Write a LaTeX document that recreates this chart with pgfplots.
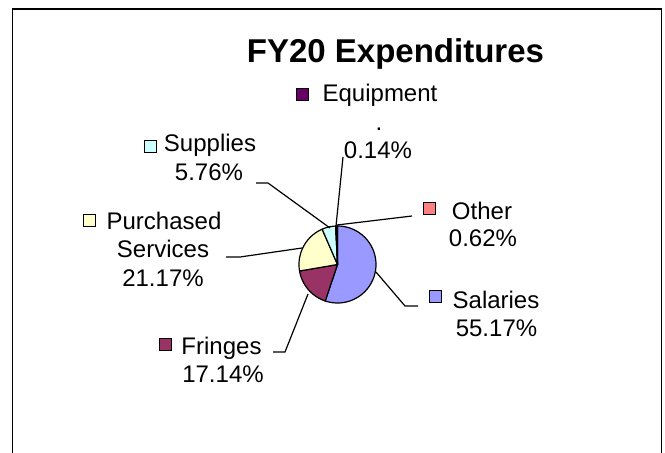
\documentclass[border=0pt]{standalone}
\usepackage{pgfplots}
\usepackage{pgfplotstable}
\pgfplotsset{compat=1.18}
\usepackage{fontspec}
\setmainfont{Liberation Sans}

\definecolor{salc}{HTML}{9999FF}
\definecolor{frc}{HTML}{993366}
\definecolor{psc}{HTML}{FFFFCC}
\definecolor{supc}{HTML}{CCFFFF}
\definecolor{eqc}{HTML}{660066}
\definecolor{othc}{HTML}{FF8080}

\pgfplotstableread{
label pct
Salaries 55.17
Fringes 17.14
PurchasedServices 21.17
Supplies 5.76
Equipment 0.14
Other 0.62
}\piedata

\pgfplotstablegetelem{0}{pct}\of\piedata \pgfmathsetmacro\pA{\pgfplotsretval}
\pgfplotstablegetelem{1}{pct}\of\piedata \pgfmathsetmacro\pB{\pgfplotsretval}
\pgfplotstablegetelem{2}{pct}\of\piedata \pgfmathsetmacro\pC{\pgfplotsretval}
\pgfplotstablegetelem{3}{pct}\of\piedata \pgfmathsetmacro\pD{\pgfplotsretval}
\pgfplotstablegetelem{4}{pct}\of\piedata \pgfmathsetmacro\pE{\pgfplotsretval}
\pgfplotstablegetelem{5}{pct}\of\piedata \pgfmathsetmacro\pF{\pgfplotsretval}
\pgfmathsetmacro\aA{90}
\pgfmathsetmacro\aB{\aA-3.6*\pA}
\pgfmathsetmacro\aC{\aB-3.6*\pB}
\pgfmathsetmacro\aD{\aC-3.6*\pC}
\pgfmathsetmacro\aE{\aD-3.6*\pD}
\pgfmathsetmacro\aF{\aE-3.6*\pE}
\pgfmathsetmacro\aG{\aF-3.6*\pF}
\def\cx{337.5}
\def\cy{264.5}
\def\rr{38.5}

\newcommand\lbl[3]{\node[anchor=base, inner sep=0pt, font=\fontsize{24}{28}\selectfont] at (axis cs:#1,#2) {#3};}
\newcommand\key[3]{\draw[fill=#3, line width=1pt] (axis cs:#1-6,#2-6) rectangle (axis cs:#1+6,#2+6);}

\begin{document}
\begin{tikzpicture}
\useasboundingbox (0,0) rectangle (665pt,453pt);
\begin{axis}[at={(0,0)}, anchor=south west, scale only axis,
  width=665pt, height=453pt, xmin=0, xmax=665, ymin=0, ymax=453,
  y dir=reverse, hide axis, clip=false]

% frame
\draw[line width=1.6pt] (axis cs:12.5,453) -- (axis cs:12.5,9) -- (axis cs:661.5,9) -- (axis cs:661.5,453);

% pie
\addplot[fill=salc, draw=black, line width=1.2pt, line join=round, domain=\aB:\aA, samples=90, variable=\t] ({\cx+\rr*cos(\t)}, {\cy-\rr*sin(\t)}) -- (axis cs:\cx,\cy) -- cycle;
\addplot[fill=frc, draw=black, line width=1.2pt, line join=round, domain=\aC:\aB, samples=40, variable=\t] ({\cx+\rr*cos(\t)}, {\cy-\rr*sin(\t)}) -- (axis cs:\cx,\cy) -- cycle;
\addplot[fill=psc, draw=black, line width=1.2pt, line join=round, domain=\aD:\aC, samples=40, variable=\t] ({\cx+\rr*cos(\t)}, {\cy-\rr*sin(\t)}) -- (axis cs:\cx,\cy) -- cycle;
\addplot[fill=supc, draw=black, line width=1.2pt, line join=round, domain=\aE:\aD, samples=20, variable=\t] ({\cx+\rr*cos(\t)}, {\cy-\rr*sin(\t)}) -- (axis cs:\cx,\cy) -- cycle;
\addplot[fill=eqc, draw=black, line width=1.2pt, line join=round, domain=\aF:\aE, samples=5, variable=\t] ({\cx+\rr*cos(\t)}, {\cy-\rr*sin(\t)}) -- (axis cs:\cx,\cy) -- cycle;
\addplot[fill=othc, draw=black, line width=1.2pt, line join=round, domain=\aG:\aF, samples=8, variable=\t] ({\cx+\rr*cos(\t)}, {\cy-\rr*sin(\t)}) -- (axis cs:\cx,\cy) -- cycle;

% leader lines
\draw[line width=1.2pt] (axis cs:376,272) -- (axis cs:405,306) -- (axis cs:418,306);
\draw[line width=1.2pt] (axis cs:308,294) -- (axis cs:285,352) -- (axis cs:273,352);
\draw[line width=1.2pt] (axis cs:302,248) -- (axis cs:240,257) -- (axis cs:226,257);
\draw[line width=1.2pt] (axis cs:330,228) -- (axis cs:268,183) -- (axis cs:256,183);
\draw[line width=1.2pt] (axis cs:336,226) -- (axis cs:343,157);
\draw[line width=1.2pt] (axis cs:337,225) -- (axis cs:412,216);

% title
\node[anchor=base, inner sep=0pt, font=\fontsize{33}{38}\selectfont\bfseries] at (axis cs:395.5,62.3) {FY20 Expenditures};

% labels
\key{302.5}{94}{eqc}
\lbl{380}{101.7}{Equipment}
\lbl{379}{130}{.}
\lbl{378}{158.3}{0.14\%}

\key{150}{146.5}{supc}
\lbl{210}{151.7}{Supplies}
\lbl{209}{180}{5.76\%}

\key{89.5}{220.5}{psc}
\lbl{164}{229}{Purchased}
\lbl{163}{257.3}{Services}
\lbl{163}{286}{21.17\%}

\key{165.5}{344}{frc}
\lbl{221.5}{354.3}{Fringes}
\lbl{223}{382.7}{17.14\%}

\key{429.3}{208}{othc}
\lbl{482}{219.3}{Other}
\lbl{483}{246.7}{0.62\%}

\key{435}{296}{salc}
\lbl{496}{308.3}{Salaries}
\lbl{496.5}{336}{55.17\%}

\end{axis}
\end{tikzpicture}
\end{document}
